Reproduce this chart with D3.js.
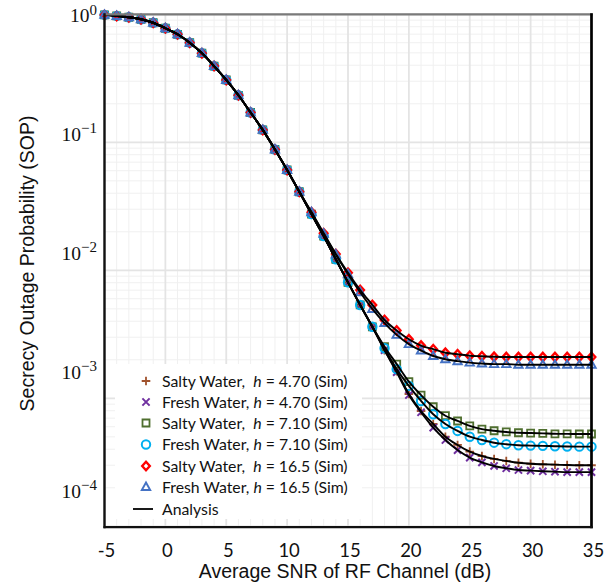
<!DOCTYPE html>
<html>
<head>
<meta charset="utf-8">
<script src="https://cdn.jsdelivr.net/npm/d3@7"></script>
<style>
  html, body { margin: 0; padding: 0; background: #fff; }
  svg { display: block; }
  text { white-space: pre; }
</style>
</head>
<body>
<svg id="chart" width="614" height="584"></svg>
<script>
// ---------------- DATA ----------------
const snr = [-5,-4,-3,-2,-1,0,1,2,3,4,5,6,7,8,9,10,11,12,13,14,15,16,17,18,19,20,21,22,23,24,25,26,27,28,29,30,31,32,33,34,35];

const saltyH470 = [0.989,0.971,0.948,0.914,0.859,0.778,0.698,0.600,0.497,0.394,0.307,0.233,0.171,0.125,0.0879,0.0608,0.0411,
  0.0275,0.0185,0.0122,0.00805,0.00536,0.00362,0.00238,0.00163,0.00108,0.000796,0.000630,0.000501,0.000432,0.000383,0.000354,0.000336,0.000324,0.000314,0.000308,0.000305,0.000303,0.000301,0.000300,0.000300];
const freshH470 = [0.989,0.971,0.948,0.914,0.859,0.778,0.698,0.600,0.497,0.394,0.307,0.233,0.171,0.125,0.0879,0.0608,0.0411,
  0.0275,0.0185,0.0122,0.00805,0.00536,0.00362,0.00238,0.00160,0.00106,0.000778,0.000589,0.000472,0.000394,0.000344,0.000316,0.000296,0.000284,0.000275,0.000272,0.000269,0.000267,0.000265,0.000265,0.000265];
const saltyH710 = [0.989,0.971,0.948,0.914,0.859,0.778,0.698,0.600,0.497,0.394,0.307,0.233,0.171,0.125,0.0879,0.0608,0.0411,
  0.0275,0.0185,0.0122,0.00805,0.00536,0.00362,0.00253,0.00185,0.00135,0.00106,0.000859,0.000731,0.000665,0.000608,0.000575,0.000558,0.000546,0.000538,0.000535,0.000532,0.000528,0.000527,0.000526,0.000526];
const freshH710 = [0.989,0.971,0.948,0.914,0.859,0.778,0.698,0.600,0.497,0.394,0.307,0.233,0.171,0.125,0.0879,0.0608,0.0411,
  0.0275,0.0185,0.0122,0.00805,0.00536,0.00362,0.00246,0.00169,0.00125,0.000953,0.000750,0.000630,0.000556,0.000501,0.000472,0.000450,0.000438,0.000430,0.000427,0.000425,0.000422,0.000420,0.000419,0.000419];
const saltyH165 = [0.989,0.971,0.948,0.914,0.859,0.778,0.698,0.600,0.497,0.394,0.307,0.233,0.171,0.125,0.0879,0.0608,0.0411,
  0.0284,0.0195,0.0134,0.00957,0.00702,0.00536,0.00409,0.00339,0.00289,0.00258,0.00242,0.00227,0.00221,0.00215,0.00213,0.00211,0.00210,0.00210,0.00210,0.00210,0.00210,0.00210,0.00210,0.00210];
const freshH165 = [0.989,0.971,0.948,0.914,0.859,0.778,0.698,0.600,0.497,0.394,0.307,0.233,0.171,0.125,0.0879,0.0608,0.0411,
  0.0284,0.0193,0.0133,0.00931,0.00673,0.00499,0.00387,0.00313,0.00265,0.00236,0.00214,0.00202,0.00195,0.00190,0.00187,0.00185,0.00185,0.00183,0.00183,0.00183,0.00183,0.00183,0.00183,0.00183];

const seriesNames = [
  ["Salty Water,  ", "h", " = 4.70 (Sim)"],
  ["Fresh Water, ", "h", " = 4.70 (Sim)"],
  ["Salty Water,  ", "h", " = 7.10 (Sim)"],
  ["Fresh Water, ", "h", " = 7.10 (Sim)"],
  ["Salty Water,  ", "h", " = 16.5 (Sim)"],
  ["Fresh Water, ", "h", " = 16.5 (Sim)"]
];
const analysisLabel = "Analysis";
const xTicks = [-5, 0, 5, 10, 15, 20, 25, 30, 35];
const yTicks = [1, 0.1, 0.01, 0.001, 0.0001];
const yTickExp = ["0", "\u22121", "\u22122", "\u22123", "\u22124"];
const xTitle = "Average SNR of RF Channel (dB)";
const yTitle = "Secrecy Outage Probability (SOP)";

// ---------------- STYLE ----------------
const seriesValues = [saltyH470, freshH470, saltyH710, freshH710, saltyH165, freshH165];
const markerTypes = ["plus", "times", "square", "circle", "diamond", "triangle"];
const markerColors = ["#A0522D", "#7030A0", "#4F6F2F", "#00B0F0", "#FF0000", "#4472C4"];
const markerWidths = [1.8, 2.0, 1.8, 2.0, 2.4, 1.9];

function markerPath(type) {
  switch (type) {
    case "plus": return "M-4.3,0H4.3M0,-4.3V4.3";
    case "times": return "M-3.6,-3.6L3.6,3.6M-3.6,3.6L3.6,-3.6";
    case "square": return "M-3.5,-3.5H3.5V3.5H-3.5Z";
    case "circle": return "M4.2,0A4.2,4.2 0 1,1 -4.2,0A4.2,4.2 0 1,1 4.2,0Z";
    case "diamond": return "M0,-4.2L3.8,0L0,4.2L-3.8,0Z";
    case "triangle": return "M0,-4.5L4.2,3H-4.2Z";
  }
}

const svg = d3.select("#chart");
const plot = { left: 104.5, right: 591.5, top: 14.3, bottom: 526.3 };

const x = d3.scaleLinear().domain([-5, 35]).range([plot.left, plot.right]);
const y = d3.scaleLog().domain([1e-4, 1]).range([plot.bottom, plot.top]);
// tick label placement as it appears in the reference picture
const yLab = d3.scaleLog().domain([1e-4, 1]).range([497.6, 22]);

// ---------------- GRID ----------------
const grid = svg.append("g");
const minorX = d3.range(-5, 36, 1).filter(d => d % 5 !== 0);
grid.selectAll(".vminor").data(minorX).join("line")
  .attr("x1", d => x(d)).attr("x2", d => x(d))
  .attr("y1", plot.top).attr("y2", plot.bottom)
  .attr("stroke", "#f0f0f0").attr("stroke-width", 1);
const yAll = y.ticks();
const isDecade = v => Math.abs(Math.log10(v) - Math.round(Math.log10(v))) < 1e-9;
grid.selectAll(".hminor").data(yAll.filter(v => !isDecade(v))).join("line")
  .attr("x1", plot.left).attr("x2", plot.right)
  .attr("y1", d => y(d)).attr("y2", d => y(d))
  .attr("stroke", "#f0f0f0").attr("stroke-width", 1);
grid.selectAll(".vmajor").data(xTicks).join("line")
  .attr("x1", d => x(d)).attr("x2", d => x(d))
  .attr("y1", plot.top).attr("y2", plot.bottom)
  .attr("stroke", "#e4e4e4").attr("stroke-width", 1.8);
grid.selectAll(".hmajor").data(yTicks).join("line")
  .attr("x1", plot.left).attr("x2", plot.right)
  .attr("y1", d => y(d)).attr("y2", d => y(d))
  .attr("stroke", "#e4e4e4").attr("stroke-width", 1.8);

// ---------------- MARKERS ----------------
const marks = svg.append("g");
seriesValues.forEach((vals, i) => {
  marks.append("g").selectAll("path").data(snr.map((s, j) => [s, vals[j]])).join("path")
    .attr("d", markerPath(markerTypes[i]))
    .attr("transform", d => `translate(${x(d[0])},${y(d[1])})`)
    .attr("fill", "none")
    .attr("stroke", markerColors[i])
    .attr("stroke-width", markerWidths[i]);
});

// ---------------- ANALYSIS LINES ----------------
const line = d3.line().x(d => x(d[0])).y(d => y(d[1])).curve(d3.curveMonotoneX);
seriesValues.forEach(vals => {
  svg.append("path")
    .attr("d", line(snr.map((s, j) => [s, vals[j]])))
    .attr("fill", "none").attr("stroke", "#000").attr("stroke-width", 1.9);
});

// ---------------- FRAME ----------------
svg.append("line").attr("x1", plot.left).attr("x2", plot.right + 1.2)
  .attr("y1", plot.top).attr("y2", plot.top)
  .attr("stroke", "#7a7a7a").attr("stroke-width", 2.2);
svg.append("line").attr("x1", plot.left).attr("x2", plot.left)
  .attr("y1", plot.top - 1).attr("y2", plot.bottom + 2)
  .attr("stroke", "#111").attr("stroke-width", 2.4);
svg.append("line").attr("x1", plot.right).attr("x2", plot.right)
  .attr("y1", plot.top - 1).attr("y2", plot.bottom + 2)
  .attr("stroke", "#000").attr("stroke-width", 2.7);
svg.append("line").attr("x1", plot.left - 1).attr("x2", plot.right + 1.3)
  .attr("y1", plot.bottom + 0.8).attr("y2", plot.bottom + 0.8)
  .attr("stroke", "#111").attr("stroke-width", 2.3);

// ---------------- AXIS LABELS ----------------
svg.append("g").selectAll("text").data(xTicks).join("text")
  .attr("x", d => x(d) + 2).attr("y", 557)
  .attr("text-anchor", "middle")
  .attr("font-family", "Lato, 'Open Sans', sans-serif")
  .attr("font-size", 18.5).attr("fill", "#111")
  .text(d => d);

const yl = svg.append("g").selectAll("text").data(yTicks).join("text")
  .attr("x", 97).attr("y", d => yLab(d))
  .attr("text-anchor", "end")
  .attr("font-family", "'Liberation Serif', 'DejaVu Serif', serif")
  .attr("font-size", 19.5).attr("fill", "#111");
yl.append("tspan").text("10");
yl.append("tspan").attr("dy", -7.5).attr("font-size", 15).text((d, i) => yTickExp[i]);

svg.append("text")
  .attr("x", 345).attr("y", 578)
  .attr("text-anchor", "middle")
  .attr("font-family", "'Liberation Sans', Arial, sans-serif")
  .attr("font-size", 19.5).attr("fill", "#111")
  .text(xTitle);

svg.append("text")
  .attr("transform", "translate(34,263.5) rotate(-90)")
  .attr("text-anchor", "middle")
  .attr("font-family", "'Liberation Sans', Arial, sans-serif")
  .attr("font-size", 19.5).attr("fill", "#111")
  .text(yTitle);

// ---------------- LEGEND ----------------
const leg = svg.append("g");
leg.append("rect").attr("x", 115).attr("y", 364).attr("width", 247).attr("height", 155)
  .attr("fill", "#fff");
const rowY = [381, 402, 423, 444.5, 466, 487];
seriesNames.forEach((nm, i) => {
  leg.append("path").attr("d", markerPath(markerTypes[i]))
    .attr("transform", `translate(146,${rowY[i]})`)
    .attr("fill", "none").attr("stroke", markerColors[i]).attr("stroke-width", markerWidths[i]);
  const t = leg.append("text").attr("x", 162).attr("y", rowY[i] + 5.8)
    .attr("font-family", "Lato, 'Open Sans', sans-serif")
    .attr("font-size", 15.8).attr("fill", "#111");
  t.append("tspan").text(nm[0]);
  t.append("tspan").attr("font-style", "italic").text(nm[1]);
  t.append("tspan").text(nm[2]);
});
leg.append("line").attr("x1", 133).attr("x2", 153).attr("y1", 509).attr("y2", 509)
  .attr("stroke", "#000").attr("stroke-width", 1.8);
leg.append("text").attr("x", 162).attr("y", 514.8)
  .attr("font-family", "Lato, 'Open Sans', sans-serif")
  .attr("font-size", 15.8).attr("fill", "#111")
  .text(analysisLabel);
</script>
</body>
</html>
